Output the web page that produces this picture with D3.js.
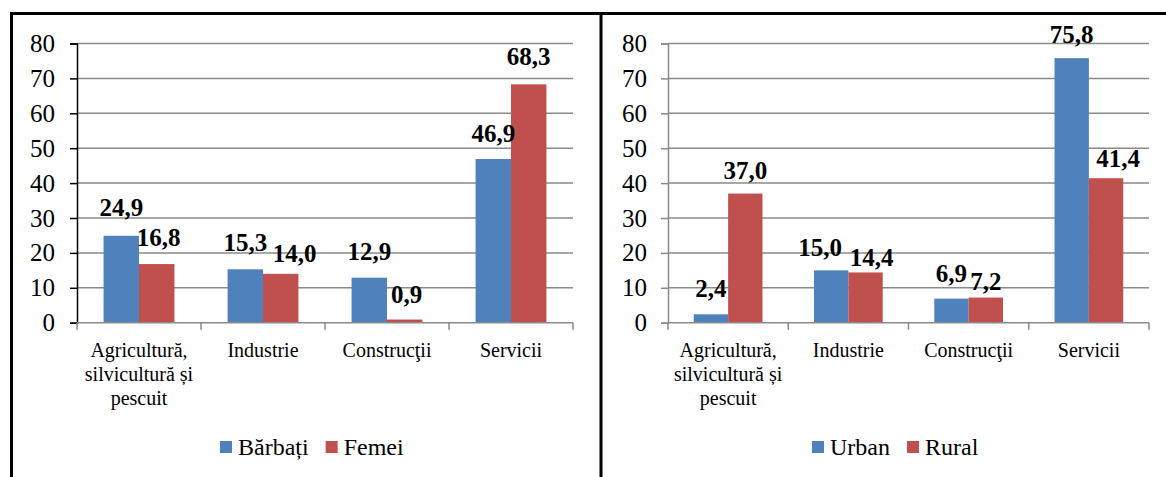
<!doctype html>
<head>
  <meta charset="utf-8">
  <script src="https://d3js.org/d3.v7.min.js"></script>
  <style>
    body { margin: 0; background: #fff; }
    svg text { font-family: 'Liberation Serif', 'Times New Roman', Tinos, 'DejaVu Serif', serif !important; }
  </style>
</head>
<body>
<div id="viz"></div>
<script>

var categories = [
  ['Agricultură,', 'silvicultură și', 'pescuit'],
  ['Industrie'],
  ['Construcţii'],
  ['Servicii']
]
var yTicks = [0, 10, 20, 30, 40, 50, 60, 70, 80]

var genderSeries = ['Bărbați', 'Femei']
var barbati = [24.9, 15.3, 12.9, 46.9]
var femei = [16.8, 14.0, 0.9, 68.3]

var areaSeries = ['Urban', 'Rural']
var urban = [2.4, 15.0, 6.9, 75.8]
var rural = [37.0, 14.4, 7.2, 41.4]

var colors = ['#4F81BD', '#C0504D']

var W = 1166, H = 477
var svg = d3.select('#viz').append('svg')
  .attr('width', W)
  .attr('height', H)

// frame of the two panels
svg.append('line').attr('x1', 10).attr('x2', W).attr('y1', 13.5).attr('y2', 13.5)
  .style('stroke', '#000').style('stroke-width', 3)
svg.append('line').attr('x1', 11.5).attr('x2', 11.5).attr('y1', 12).attr('y2', H)
  .style('stroke', '#000').style('stroke-width', 3)
svg.append('line').attr('x1', 601).attr('x2', 601).attr('y1', 12).attr('y2', H)
  .style('stroke', '#000').style('stroke-width', 3)

var fmt = function(v) { return d3.format('.1f')(v).replace('.', ','); }

var drawChart = function(opt) {
  var g = svg.append('g')
  var y = d3.scaleLinear().domain([0, 80]).range([322.7, 43.5])
  var x = d3.scaleBand().domain(d3.range(categories.length))
    .range([opt.x0, opt.x1]).paddingInner(0.4286).paddingOuter(0.2143)
  var xs = d3.scaleBand().domain([0, 1]).range([0, x.bandwidth()])

  // gridlines
  g.selectAll('.grid')
    .data(yTicks.slice(1))
    .enter()
    .append('line')
    .attr('x1', opt.x0).attr('x2', opt.x1)
    .attr('y1', function(d) { return y(d); })
    .attr('y2', function(d) { return y(d); })
    .style('stroke', '#8a8a8a')
    .style('stroke-width', 1.5)

  // y axis
  var ya = g.append('g')
    .attr('transform', 'translate(' + opt.x0 + ',0)')
    .call(d3.axisLeft(y).tickValues(yTicks).tickSize(7).tickPadding(opt.pad))
  ya.attr('font-family', null).attr('font-size', null)
  ya.select('.domain').style('stroke', opt.axisColor).style('stroke-width', 1.5)
  ya.selectAll('.tick line').style('stroke', opt.axisColor).style('stroke-width', 1.5)
  ya.selectAll('.tick text')
    .style('font-size', '25px')
    .style('fill', '#000')

  // bars
  var values = opt.values
  values.forEach(function(series, si) {
    g.selectAll('.bar' + si)
      .data(series)
      .enter()
      .append('rect')
      .attr('x', function(d, i) { return x(i) + xs(si); })
      .attr('width', xs.bandwidth())
      .attr('y', function(d) { return y(d); })
      .attr('height', function(d) { return y(0) - y(d); })
      .style('fill', colors[si])
  })

  // x axis baseline and ticks
  g.append('line')
    .attr('x1', opt.x0).attr('x2', opt.x1)
    .attr('y1', y(0)).attr('y2', y(0))
    .style('stroke', '#8a8a8a').style('stroke-width', 1.5)
  var bounds = d3.range(categories.length + 1).map(function(i) {
    return opt.x0 + i * (opt.x1 - opt.x0) / categories.length;
  })
  g.selectAll('.xtick')
    .data(bounds)
    .enter()
    .append('line')
    .attr('x1', function(d) { return d; })
    .attr('x2', function(d) { return d; })
    .attr('y1', y(0)).attr('y2', y(0) + 7)
    .style('stroke', '#8a8a8a').style('stroke-width', 1.5)

  // category labels
  categories.forEach(function(lines, i) {
    var t = g.append('text')
      .attr('text-anchor', 'middle')
      .style('font-size', '20px')
      .style('fill', '#000')
    lines.forEach(function(l, k) {
      t.append('tspan')
        .attr('x', x(i) + x.bandwidth() / 2)
        .attr('y', 357 + k * 24)
        .text(l)
    })
  })

  // data labels (nudged a little, as in the original layout)
  values.forEach(function(series, si) {
    g.selectAll('.lab' + si)
      .data(series)
      .enter()
      .append('text')
      .attr('text-anchor', 'middle')
      .attr('x', function(d, i) { return x(i) + xs(si) + xs.bandwidth() / 2 + opt.nudge[si][i][0]; })
      .attr('y', function(d, i) { return y(d) - 17 + opt.nudge[si][i][1]; })
      .style('font-size', '25px')
      .style('font-weight', 'bold')
      .style('fill', '#000')
      .text(fmt)
  })

  // legend
  var lg = g.append('g').attr('transform', 'translate(' + opt.legendX + ',447)')
  var lx = 0
  opt.series.forEach(function(name, si) {
    lg.append('rect')
      .attr('x', lx).attr('y', -6).attr('width', 12).attr('height', 12)
      .style('fill', colors[si])
    var t = lg.append('text')
      .attr('x', lx + 18).attr('y', 8)
      .style('font-size', '24px')
      .style('fill', '#000')
      .text(name)
    lx += 18 + t.node().getComputedTextLength() + 17
  })
}

drawChart({
  x0: 77, x1: 573, pad: 15, axisColor: '#000',
  values: [barbati, femei], series: genderSeries, legendX: 220,
  nudge: [[[0, -3], [0, -1], [0, -1], [0, 0]], [[2, -1], [14, 5], [2, 0], [0, -2]]]
})
drawChart({
  x0: 668, x1: 1149, pad: 14, axisColor: '#8a8a8a',
  values: [urban, rural], series: areaSeries, legendX: 812,
  nudge: [[[0, 0], [-11, 3], [0, 0], [0, 2]], [[0, 2], [6, 11], [0, 9], [12, 6]]]
})

</script>
